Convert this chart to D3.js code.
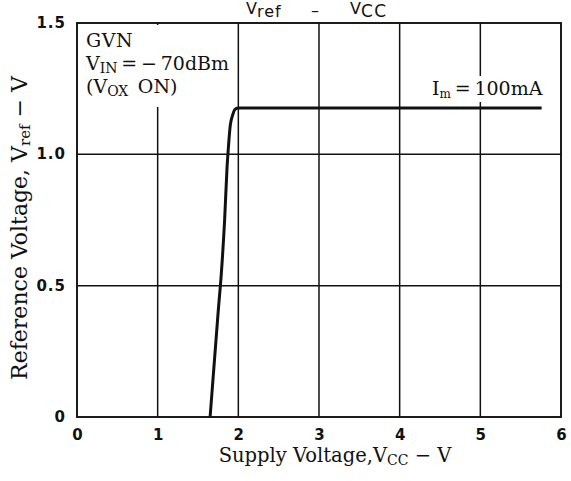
<!DOCTYPE html>
<html>
<head>
<meta charset="utf-8">
<script src="https://cdn.jsdelivr.net/npm/d3@7/dist/d3.min.js"></script>
<style>
  html, body { margin: 0; padding: 0; background: #fff; }
  svg { display: block; }
  .tick-label { font-family: "DejaVu Sans", sans-serif; font-weight: bold; font-size: 15px; letter-spacing: 1px; fill: #111; }
  .serif { font-family: "DejaVu Serif", "Liberation Serif", serif; fill: #111; }
</style>
</head>
<body>
<svg id="chart" width="571" height="481"></svg>
<script>
// Reference voltage vs. supply voltage
const supplyVoltage = [1.65, 1.70, 1.75, 1.79, 1.83, 1.86, 1.88, 1.90, 1.93, 1.96, 2.00, 3.00, 4.00, 5.00, 5.76];
const refVoltage    = [0.00, 0.20, 0.40, 0.55, 0.75, 0.95, 1.04, 1.11, 1.15, 1.172, 1.176, 1.176, 1.176, 1.176, 1.176];
const xTicks = [0, 1, 2, 3, 4, 5, 6];
const yTicks = [0, 0.5, 1.0, 1.5];
const yTickLabels = ["0", "0.5", "1.0", "1.5"];

const svg = d3.select("#chart");
const margin = { left: 77, right: 10, top: 23, bottom: 64 };
const W = 571, H = 481;
const x = d3.scaleLinear().domain([0, 6]).range([margin.left, W - margin.right]);
const y = d3.scaleLinear().domain([0, 1.5]).range([H - margin.bottom, margin.top]);

const ink = "#111";

// grid
const grid = svg.append("g").attr("stroke", ink).attr("stroke-width", 1.5);
grid.selectAll("line.v").data(xTicks.slice(1, -1)).join("line")
  .attr("x1", d => x(d)).attr("x2", d => x(d))
  .attr("y1", y(0)).attr("y2", y(1.5));
grid.selectAll("line.h").data(yTicks.slice(1, -1)).join("line")
  .attr("x1", x(0)).attr("x2", x(6))
  .attr("y1", d => y(d)).attr("y2", d => y(d));

// white panels behind the notes
svg.append("rect").attr("x", x(0) + 2).attr("y", y(1.5) + 2)
  .attr("width", x(2) - x(0) - 4).attr("height", 82).attr("fill", "#fff");
svg.append("rect").attr("x", x(4.3)).attr("y", 76)
  .attr("width", x(5.7) - x(4.3)).attr("height", 26).attr("fill", "#fff");

// frame
svg.append("rect").attr("x", x(0)).attr("y", y(1.5))
  .attr("width", x(6) - x(0)).attr("height", y(0) - y(1.5))
  .attr("fill", "none").attr("stroke", ink).attr("stroke-width", 1.9);

// curve
const line = d3.line().x((d, i) => x(supplyVoltage[i])).y(d => y(d)).curve(d3.curveMonotoneX);
svg.append("path").datum(refVoltage).attr("d", line)
  .attr("fill", "none").attr("stroke", ink).attr("stroke-width", 3).attr("stroke-linejoin", "round");

// tick labels
svg.selectAll("text.xt").data(xTicks).join("text").attr("class", "tick-label")
  .attr("x", d => x(d) + 1).attr("y", y(0) + 23).attr("text-anchor", "middle").text(d => d);
svg.selectAll("text.yt").data(yTicks).join("text").attr("class", "tick-label")
  .attr("x", x(0) - 11).attr("y", d => y(d) + 5).attr("text-anchor", "end")
  .text((d, i) => yTickLabels[i]);

// title
const cx = (x(0) + x(6)) / 2;
const title = svg.append("g").style("font-family", "'DejaVu Sans', sans-serif").attr("fill", ink);
const t1 = title.append("text").attr("x", cx - 73).attr("y", 14).style("font-size", "16px");
t1.append("tspan").text("V");
t1.append("tspan").attr("dy", 3).style("font-size", "16px").style("letter-spacing", "1px").text("ref");
title.append("text").attr("x", cx - 8).attr("y", 16).style("font-size", "16px").text("\u2013");
const t2 = title.append("text").attr("x", cx + 31).attr("y", 14).style("font-size", "16px");
t2.append("tspan").text("V");
t2.append("tspan").attr("dy", 3).style("font-size", "17px").style("letter-spacing", "1.5px").text("CC");

// notes
const ann = svg.append("g").attr("class", "serif").style("font-size", "19px");
ann.append("text").attr("x", x(0) + 9).attr("y", 47).style("letter-spacing", "0.5px").text("GVN");
const vin = ann.append("text").attr("x", x(0) + 9).attr("y", 70);
vin.append("tspan").text("V");
vin.append("tspan").attr("dy", 3).style("font-size", "14px").text("IN");
vin.append("tspan").attr("dy", -3).text("\u2009=\u2009\u2212\u200970dBm");
const vox = ann.append("text").attr("x", x(0) + 9).attr("y", 93);
vox.append("tspan").text("(V");
vox.append("tspan").attr("dy", 3).style("font-size", "14px").text("OX");
vox.append("tspan").attr("dy", -3).text("\u2002ON)");
const im = ann.append("text").attr("x", x(5.77)).attr("y", 95).attr("text-anchor", "end");
im.append("tspan").text("I");
im.append("tspan").attr("dy", 3).style("font-size", "12px").text("m");
im.append("tspan").attr("dy", -3).text("\u2009=\u2009100mA");

// axis titles
const xt = svg.append("text").attr("class", "serif").style("font-size", "19.5px")
  .attr("x", 335).attr("y", 462).attr("text-anchor", "middle");
xt.append("tspan").text("Supply Voltage,V");
xt.append("tspan").attr("dy", 3).style("font-size", "14px").text("CC");
xt.append("tspan").attr("dy", -3).text(" \u2212 V");

const yt = svg.append("text").attr("class", "serif").style("font-size", "22px")
  .attr("transform", `translate(27, 228) rotate(-90)`)
  .attr("text-anchor", "middle");
yt.append("tspan").text("Reference Voltage, V");
yt.append("tspan").attr("dy", 3).style("font-size", "15px").text("ref");
yt.append("tspan").attr("dy", -3).text(" \u2212 V");
</script>
</body>
</html>
